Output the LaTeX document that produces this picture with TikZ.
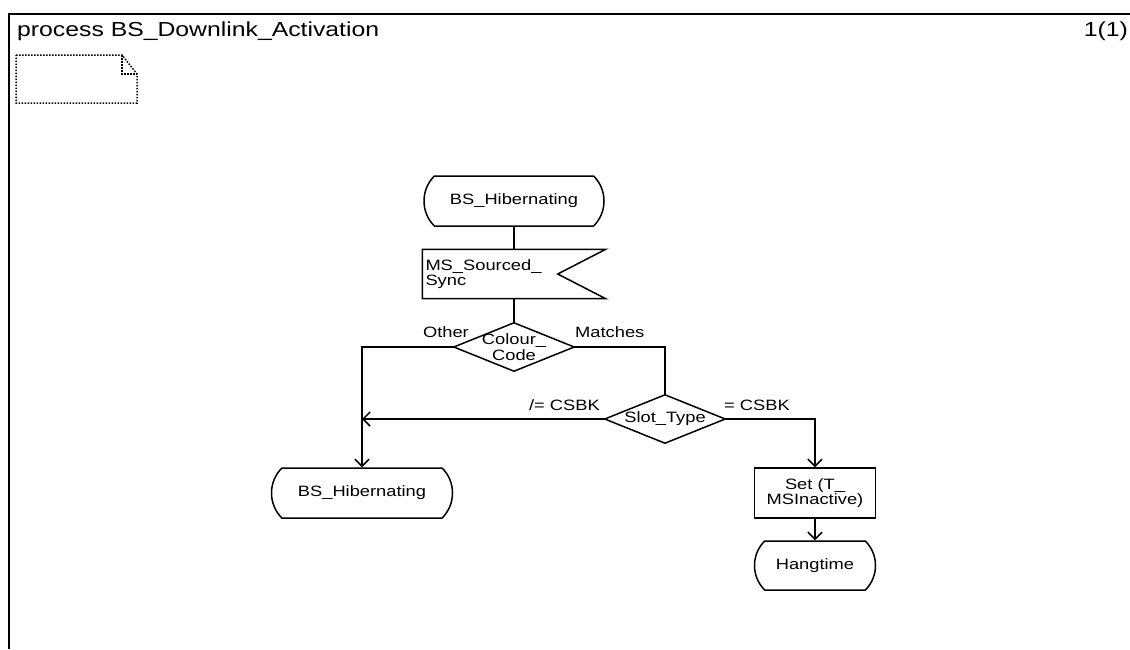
\documentclass[tikz,border=0pt]{standalone}
\usepackage{fontspec}
\setmainfont[FakeStretch=1.22]{Liberation Sans}
\usetikzlibrary{shapes.misc,arrows.meta}
\tikzset{
  ln/.style={line width=1.5pt},
  arr/.style={ln,-{Straight Barb[length=7pt,width=14pt,line width=1.5pt]}},
  statebox/.style={draw,ln,rounded rectangle,rounded rectangle arc length=90,minimum height=50pt,inner sep=0pt,align=center},
  taskbox/.style={draw,ln,rectangle,minimum width=121pt,minimum height=50pt,inner sep=0pt,align=center},
  decbox/.style={rectangle,minimum width=120pt,minimum height=48pt,inner sep=0pt,align=center},
  lbl/.style={inner sep=0pt},
  notedots/.style={line width=1.5pt,dash pattern=on 1.5pt off 1.5pt}
}
\begin{document}
\begin{tikzpicture}[x=1pt,y=-1pt,font=\fontsize{15}{15.5}\selectfont]
\useasboundingbox (0,0) rectangle (1130,649);
% frame
\draw[line width=2.8pt] (1130,14) -- (9,14) -- (9,649);
\node[lbl,anchor=base west,font=\fontsize{20.3}{21}\selectfont] (title) at (17,36) {process BS\_Downlink\_Activation};
\node[lbl,anchor=base east,font=\fontsize{20.3}{21}\selectfont] (page) at (1128,36) {1(1)};
% note symbol
\draw[notedots] (16,55) -- (122,55) -- (137,74) -- (137,103) -- (16,103) -- cycle;
\draw[notedots] (122,55) -- (122,74) -- (137,74);
% nodes
\node[statebox,minimum width=180pt] (s1) at (514,201) {BS\_Hibernating};
\node[rectangle,minimum width=183pt,minimum height=49pt,text width=177pt,inner sep=3pt,align=left] (sig) at (514,274) {MS\_Sourced\_\\Sync};
\draw[ln] (sig.north west) -- (sig.north east) -- ([xshift=-48pt]sig.east) -- (sig.south east) -- (sig.south west) -- cycle;
\node[decbox] (d1) at (514,347) {Colour\_\\Code};
\draw[ln] (d1.north) -- (d1.east) -- (d1.south) -- (d1.west) -- cycle;
\node[decbox] (d2) at (665,419) {Slot\_Type};
\draw[ln] (d2.north) -- (d2.east) -- (d2.south) -- (d2.west) -- cycle;
\node[statebox,minimum width=181pt] (s2) at (362,493) {BS\_Hibernating};
\node[taskbox] (task) at (815,493) {Set (T\_\\MSInactive)};
\node[statebox,minimum width=121pt,minimum height=49pt] (s3) at (815,565.5) {Hangtime};
% connectors
\draw[ln] (s1.south) -- (sig.north);
\draw[ln] (sig.south) -- (d1.north);
\draw[arr] (d1.west) -| (s2.north);
\draw[ln] (d1.east) -| (d2.north);
\draw[arr] (d2.west) -- (s2.north |- d2.west);
\draw[arr] (d2.east) -| (task.north);
\draw[arr] (task.south) -- (s3.north);
% labels
\node[lbl,anchor=base east] (lo) at (469,337) {Other};
\node[lbl,anchor=base west] (lm) at (575,337) {Matches};
\node[lbl,anchor=base east] (lne) at (600,410) {/= CSBK};
\node[lbl,anchor=base west] (leq) at (724,410) {= CSBK};
\end{tikzpicture}
\end{document}
